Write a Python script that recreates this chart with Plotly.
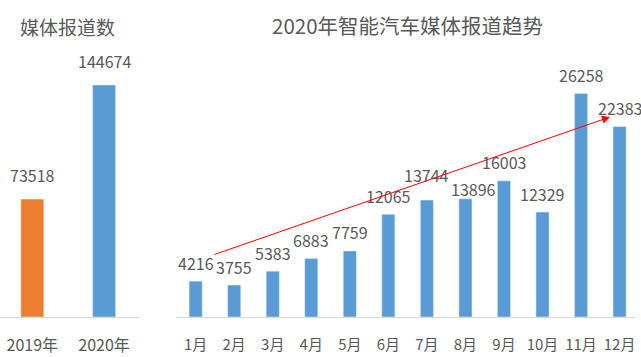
import plotly.graph_objects as go

# Data
years = ["2019年", "2020年"]
year_values = [73518, 144674]
year_colors = ["#ED7D31", "#5B9BD5"]

months = ["1月", "2月", "3月", "4月", "5月", "6月", "7月", "8月", "9月", "10月", "11月", "12月"]
month_values = [4216, 3755, 5383, 6883, 7759, 12065, 13744, 13896, 16003, 12329, 26258, 22383]

left_title = "媒体报道数"
right_title = "2020年智能汽车媒体报道趋势"

# manual label nudges (pixels: dx, dy-up) as in the reference
label_nudge = {"7月": (0, 7), "8月": (8, -8.5)}

FONT = "Microsoft YaHei, Noto Sans CJK SC, sans-serif"
TXT = "#595959"
W, H = 641, 357

fig = go.Figure()
fig.add_trace(go.Bar(x=years, y=year_values, marker_color=year_colors, width=0.32,
                     xaxis="x", yaxis="y", hoverinfo="skip"))
fig.add_trace(go.Bar(x=months, y=month_values, marker_color="#5B9BD5", width=0.34,
                     xaxis="x2", yaxis="y2", hoverinfo="skip"))

annotations = []
for c, v in zip(years, year_values):
    annotations.append(dict(x=c, y=v, xref="x", yref="y", text=str(v), showarrow=False,
                            yanchor="middle", yshift=24, font=dict(size=16, color=TXT, family=FONT)))
for c, v in zip(months, month_values):
    dx, dy = label_nudge.get(c, (0, 0))
    annotations.append(dict(x=c, y=v, xref="x2", yref="y2", text=str(v), showarrow=False,
                            yanchor="middle", yshift=18.5 + dy, xshift=dx,
                            font=dict(size=16, color=TXT, family=FONT)))

# trend arrow (from Jan to Dec)
annotations.append(dict(x=10.75, y=23500, ax=0.45, ay=7285, xref="x2", yref="y2",
                        axref="x2", ayref="y2", text="", showarrow=True,
                        arrowcolor="#FF0000", arrowwidth=1, arrowhead=2, arrowsize=1.6))

# titles
annotations.append(dict(x=67 / W, y=1 - 30 / H, xref="paper", yref="paper", text=left_title,
                        showarrow=False, xanchor="center", yanchor="middle",
                        font=dict(size=19, color=TXT, family=FONT)))
annotations.append(dict(x=407 / W, y=1 - 28.5 / H, xref="paper", yref="paper", text=right_title,
                        showarrow=False, xanchor="center", yanchor="middle",
                        font=dict(size=20.5, color=TXT, family=FONT)))

plot_h = 317
fig.update_layout(
    width=W, height=H,
    margin=dict(l=0, r=0, t=0, b=H - plot_h),
    paper_bgcolor="white", plot_bgcolor="white",
    showlegend=False,
    annotations=annotations,
    xaxis=dict(domain=[0, 140 / W], range=[-0.45, 1.5], showline=True, linecolor="#D9D9D9",
               linewidth=1, showgrid=False, ticks="", ticklabelstandoff=14,
               tickfont=dict(size=16, color=TXT, family=FONT), fixedrange=True),
    yaxis=dict(domain=[0, 1], range=[0, plot_h * 623.6], visible=False, fixedrange=True),
    xaxis2=dict(domain=[176 / W, 635 / W], range=[-0.51, 11.4], showline=True, linecolor="#D9D9D9",
                linewidth=1, showgrid=False, ticks="", ticklabelstandoff=14,
                tickfont=dict(size=15, color=TXT, family=FONT), fixedrange=True, anchor="y2"),
    yaxis2=dict(domain=[0, 1], range=[0, plot_h * 117.5], visible=False, fixedrange=True, anchor="x2"),
)

fig.write_html("out.html", config={"displayModeBar": False, "staticPlot": True},
               post_script="document.body.style.margin='0';document.body.style.overflow='hidden';")
